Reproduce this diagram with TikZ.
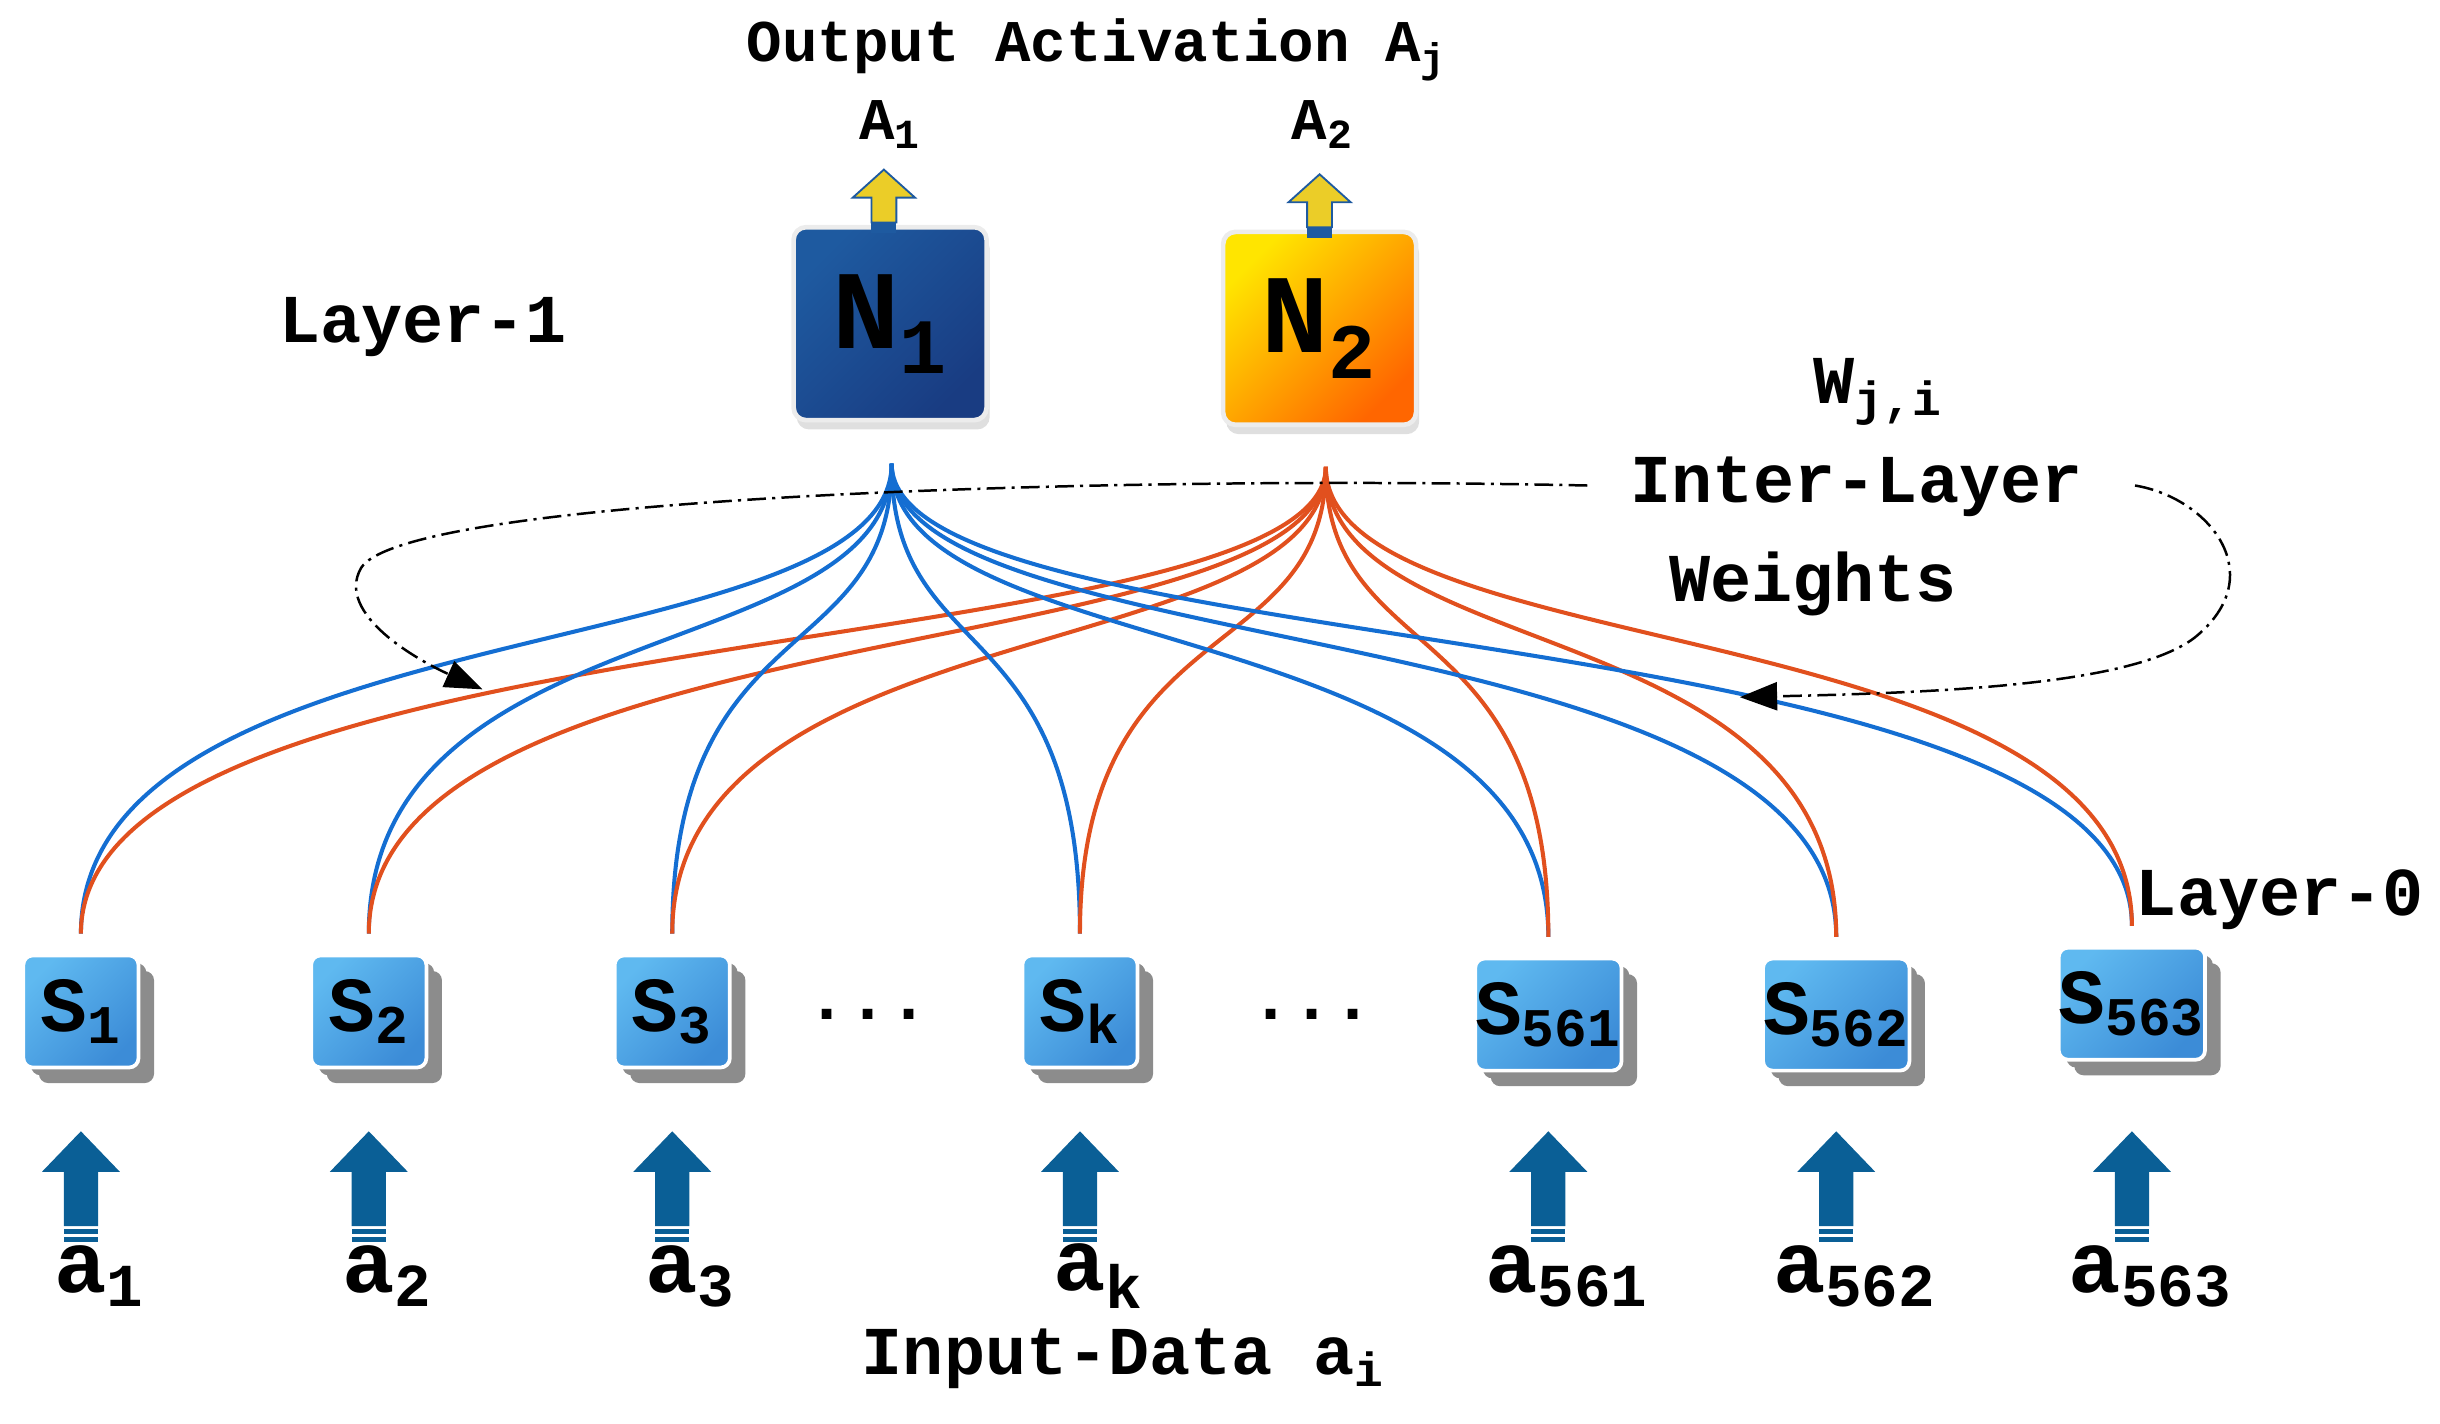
\documentclass[tikz,border=0pt]{standalone}
\usepackage{fontspec}
\setmainfont{Liberation Mono}
\usetikzlibrary{shadows,arrows.meta}
\definecolor{nblue}{RGB}{30,90,160}
\definecolor{nblued}{RGB}{25,60,130}
\definecolor{lineblue}{RGB}{20,110,210}
\definecolor{linered}{RGB}{225,80,30}
\definecolor{sblue}{RGB}{95,185,240}
\definecolor{sblued}{RGB}{60,140,215}
\definecolor{inarrow}{RGB}{10,95,150}
\definecolor{yel}{RGB}{235,205,40}
\tikzset{
  txt/.style={font=\bfseries\fontsize{19}{21}\selectfont, inner sep=0pt},
  ltxt/.style={font=\bfseries\fontsize{22}{24}\selectfont, inner sep=0pt},
  sbox/.style={rounded corners=3pt, minimum width=37pt, minimum height=36pt, left color=sblue, right color=sblued, shading angle=45, draw=white, line width=1.2pt,
     double copy shadow={shadow xshift=2.5pt, shadow yshift=-2.5pt, fill=gray!90, draw=none},
     font=\bfseries\fontsize{25}{27}\selectfont, inner sep=0pt},
  nbox/.style={rounded corners=4pt, minimum width=62pt, minimum height=62pt, draw=white!85!gray, line width=1.5pt,
     drop shadow={shadow xshift=1pt, shadow yshift=-3pt, opacity=0.25},
     font=\bfseries\fontsize{36}{38}\selectfont, inner sep=0pt},
  bw/.style={lineblue, line width=1.3pt},
  rw/.style={linered, line width=1.3pt},
  dd/.style={black, line width=0.8pt, dash pattern=on 6pt off 2pt on 1pt off 2pt},
}
\newcommand{\inarr}[2]{\fill[inarrow] (#1-11,#2-5) -- (#1-11,#2-40) -- (#1-25,#2-40) -- (#1,#2-66) -- (#1+25,#2-40) -- (#1+11,#2-40) -- (#1+11,#2-5) -- cycle;
  \fill[inarrow] (#1-11,#2) rectangle (#1+11,#2-3);
  \fill[inarrow] (#1-11,#2+5) rectangle (#1+11,#2+2);}
\newcommand{\yarr}[2]{\filldraw[fill=yel, draw=nblue, line width=0.6pt] (#1-8,#2) -- (#1-8,#2-16) -- (#1-20,#2-16) -- (#1,#2-34) -- (#1+20,#2-16) -- (#1+8,#2-16) -- (#1+8,#2) -- cycle;
  \fill[nblue] (#1-8,#2) rectangle (#1+8,#2+7);}
\begin{document}
\begin{tikzpicture}[x=0.5pt,y=-0.5pt]
\useasboundingbox (0,0) rectangle (1568,914.5);
\node[txt] (title) at (705,32) {Output Activation A\textsubscript{j}};
\node[txt] (A1) at (572,80) {A\textsubscript{1}};
\node[txt] (A2) at (850,80) {A\textsubscript{2}};
\node[ltxt] (L1) at (272,210) {Layer-1};
\node[ltxt] (W) at (1207,252) {W\textsubscript{j,i}};
\node[ltxt] (IL) at (1193,313) {Inter-Layer};
\node[ltxt] (Wt) at (1165,375) {Weights};
\node[ltxt] (L0) at (1465,578) {Layer-0};
\node[ltxt] (ID) at (722,873) {Input-Data a\textsubscript{i}};

\node[nbox, left color=nblue, right color=nblued, shading angle=45] (N1) at (572,208) {N\textsubscript{1}};
\node[nbox, left color=yellow!80!orange, right color=orange!80!red, shading angle=45] (N2) at (848,211) {N\textsubscript{2}};
\yarr{568}{143}
\yarr{848}{146}

\coordinate (h1) at (573,298);
\coordinate (h2) at (852,300);

\foreach \n/\x/\y/\lab in {1/52/650/1, 2/237/650/2, 3/432/650/3, k/694/650/k, 561/995/652/561, 562/1180/652/562, 563/1370/645/563}{
  \node[sbox] (S\n) at (\x,\y) {S\textsubscript{\lab}};
  \coordinate (t\n) at (\x,\y-50);
  \draw[bw] (h1) .. controls (573,430) and (\x,390) .. (t\n);
  \draw[rw] (h2) .. controls (852,430) and (\x,390) .. (t\n);
  \inarr{\x}{793}
  \node[font=\bfseries\fontsize{28}{30}\selectfont, inner sep=0pt] (a\n) at (\x+12,820) {a\textsubscript{\lab}};
}
\node[ltxt] (d1) at (558,652) {...};
\node[ltxt] (d2) at (843,652) {...};

\coordinate (dl0) at (1020,312);
\coordinate (dl1) at (310,443);
\coordinate (dr0) at (1372,312);
\coordinate (dr1) at (1118,448);
\draw[dd, -{Triangle[length=12pt,width=9pt]}] (dl0) .. controls (700,305) and (260,320) .. (232,365) .. controls (215,395) and (270,425) .. (dl1);
\draw[dd, -{Triangle[length=12pt,width=9pt]}] (dr0) .. controls (1420,320) and (1460,370) .. (1410,410) .. controls (1370,440) and (1250,445) .. (dr1);
\end{tikzpicture}
\end{document}
